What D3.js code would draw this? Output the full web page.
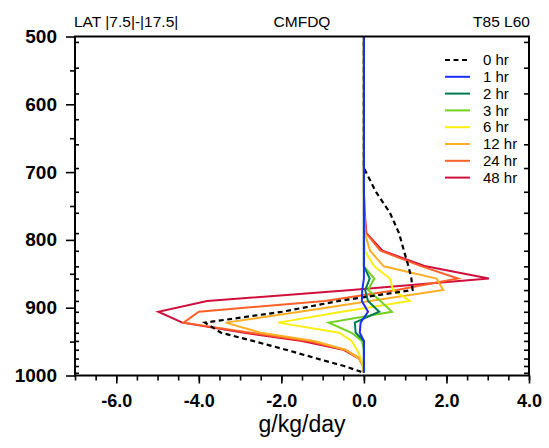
<!DOCTYPE html>
<html>
<head>
<meta charset="utf-8">
<script src="https://cdn.jsdelivr.net/npm/d3@7"></script>
<style>
  body { margin: 0; background: #fff; }
  text { font-family: "Liberation Sans", Arial, Helvetica, sans-serif; }
</style>
</head>
<body>
<svg width="549" height="448"></svg>
<script>
// model levels (hPa), first one sits above the plot top and gets clipped
const levels = [470, 508, 546, 584, 622, 659, 694, 729, 760, 790, 816, 839, 857, 874, 890, 906, 922, 937, 949, 962, 975, 986, 996];

const hr0  = [0, 0, 0, 0, 0, 0, 0, 0.29, 0.63, 0.85, 0.97, 1.08, 1.15, 1.18, -0.6, -1.98, -3.85, -3.46, -2.69, -1.89, -1.14, -0.48, 0];
const hr1  = [0, 0, 0, 0, 0, 0, 0, 0, 0, 0, 0, 0, 0, -0.04, -0.05, 0.1, -0.08, -0.1, 0, 0, 0, 0, 0];
const hr2  = [0, 0, 0, 0, 0, 0, 0, 0, 0, 0, 0, 0, 0.14, 0.03, 0.1, 0.37, -0.22, -0.2, 0, 0, 0, 0, 0];
const hr3  = [0, 0, 0, 0, 0, 0, 0, 0, 0, 0, 0, 0, 0.25, 0.1, 0.4, 0.68, -0.85, -0.3, -0.05, 0, 0, 0, 0];
const hr6  = [0, 0, 0, 0, 0, 0, 0, 0, 0, 0, 0.02, 0.25, 0.63, 0.71, 1.11, -0.53, -2.08, -0.6, -0.3, -0.17, -0.07, -0.02, 0];
const hr12 = [0, 0, 0, 0, 0, 0, 0, 0, 0, 0.02, 0.15, 0.48, 1.76, 1.92, 0.15, -1.55, -3.35, -2.5, -1.2, -0.45, -0.12, -0.02, 0];
const hr24 = [0, 0, 0, 0, 0, 0, 0, 0, 0.01, 0.05, 0.4, 1.4, 2.28, 0.8, -0.95, -4.0, -4.37, -2.75, -1.35, -0.45, -0.1, -0.02, 0];
const hr48 = [0, 0, 0, 0, 0, 0, 0, 0, 0.02, 0.06, 0.45, 1.5, 3.03, -0.3, -3.8, -4.98, -4.4, -2.9, -1.5, -0.5, -0.12, -0.02, 0];

const seriesNames = ["0 hr", "1 hr", "2 hr", "3 hr", "6 hr", "12 hr", "24 hr", "48 hr"];
const seriesValues = [hr0, hr1, hr2, hr3, hr6, hr12, hr24, hr48];
const seriesColors = ["#000000", "#1a2cff", "#007a50", "#72d11e", "#fbee12", "#ffae26", "#ff6128", "#d0103c"];

const yTicks = [500, 600, 700, 800, 900, 1000];
const yMinor = [550, 650, 750, 850, 950];
const xTicks = [-6, -4, -2, 0, 2, 4];

const width = 549;
const height = 448;
const plot = { left: 75, right: 529, top: 36.5, bottom: 375.5 };

const svg = d3.select("svg");

const x = d3.scaleLinear().domain([-7, 4]).range([plot.left, plot.right]);
const y = d3.scaleLinear().domain([500, 1000]).range([plot.top, plot.bottom]);

// clip
svg.append("clipPath").attr("id", "clip")
  .append("rect")
  .attr("x", plot.left).attr("y", plot.top)
  .attr("width", plot.right - plot.left).attr("height", plot.bottom - plot.top);

const innerLevels = levels.filter(p => p > 500 && p < 1000);

// left axis
const gl = svg.append("g").attr("transform", `translate(${plot.left},0)`);
gl.call(d3.axisLeft(y).tickValues(yTicks).tickSize(9).tickPadding(9).tickFormat(d3.format("d")));
gl.selectAll("text").attr("font-size", 19).attr("font-weight", "bold").attr("fill", "#000");
gl.append("g").call(d3.axisLeft(y).tickValues(yMinor).tickSize(5).tickFormat(""));
gl.append("g").call(d3.axisRight(y).tickValues(innerLevels).tickSize(4).tickFormat(""));

// right axis (model level ticks only)
const gr = svg.append("g").attr("transform", `translate(${plot.right},0)`);
gr.call(d3.axisLeft(y).tickValues(innerLevels).tickSize(5).tickFormat(""));

// bottom axis
const gb = svg.append("g").attr("transform", `translate(0,${plot.bottom})`);
gb.call(d3.axisBottom(x).tickValues(xTicks).tickSize(8).tickPadding(11).tickFormat(d => d.toFixed(1)));
gb.selectAll("text").attr("font-size", 18).attr("font-weight", "bold").attr("fill", "#000");
gb.append("g").call(d3.axisBottom(x).tickValues(d3.range(-7, 4.01, 0.5)).tickSize(5).tickFormat(""));

svg.selectAll(".domain").remove();
svg.selectAll(".tick line").attr("stroke", "#000").attr("stroke-width", 1.6);

// lines
const line = d3.line()
  .x(d => x(d[0]))
  .y(d => y(d[1]));

const order = [7, 6, 5, 4, 3, 2, 0, 1];
const gLines = svg.append("g").attr("clip-path", "url(#clip)");
order.forEach(i => {
  const pts = seriesValues[i].map((v, k) => [v, levels[k]]);
  gLines.append("path")
    .datum(pts)
    .attr("fill", "none")
    .attr("stroke", seriesColors[i])
    .attr("stroke-width", i === 0 ? 2.2 : 2)
    .attr("stroke-dasharray", i === 0 ? "5,3.5" : null)
    .attr("stroke-linejoin", "miter")
    .attr("d", line);
});

// frame
svg.append("rect")
  .attr("x", plot.left).attr("y", plot.top)
  .attr("width", plot.right - plot.left).attr("height", plot.bottom - plot.top)
  .attr("fill", "none").attr("stroke", "#000").attr("stroke-width", 2);

// legend
const legend = svg.append("g");
seriesNames.forEach((name, i) => {
  const ly = 60 + i * 16.8;
  legend.append("line")
    .attr("x1", 445).attr("x2", 470).attr("y1", ly).attr("y2", ly)
    .attr("stroke", seriesColors[i]).attr("stroke-width", 2)
    .attr("stroke-dasharray", i === 0 ? "5,3.5" : null);
  legend.append("text")
    .attr("x", 483).attr("y", ly).attr("dy", "0.35em")
    .attr("font-size", 15).attr("fill", "#000")
    .text(name);
});

// titles
svg.append("text").attr("x", plot.left - 1).attr("y", 27).attr("font-size", 15.5).text("LAT |7.5|-|17.5|");
svg.append("text").attr("x", (plot.left + plot.right) / 2).attr("y", 27).attr("font-size", 15.5)
  .attr("text-anchor", "middle").text("CMFDQ");
svg.append("text").attr("x", plot.right + 1).attr("y", 27).attr("font-size", 15.5)
  .attr("text-anchor", "end").text("T85 L60");

// x label
svg.append("text").attr("x", (plot.left + plot.right) / 2).attr("y", 432)
  .attr("font-size", 23).attr("text-anchor", "middle").text("g/kg/day");
</script>
</body>
</html>
